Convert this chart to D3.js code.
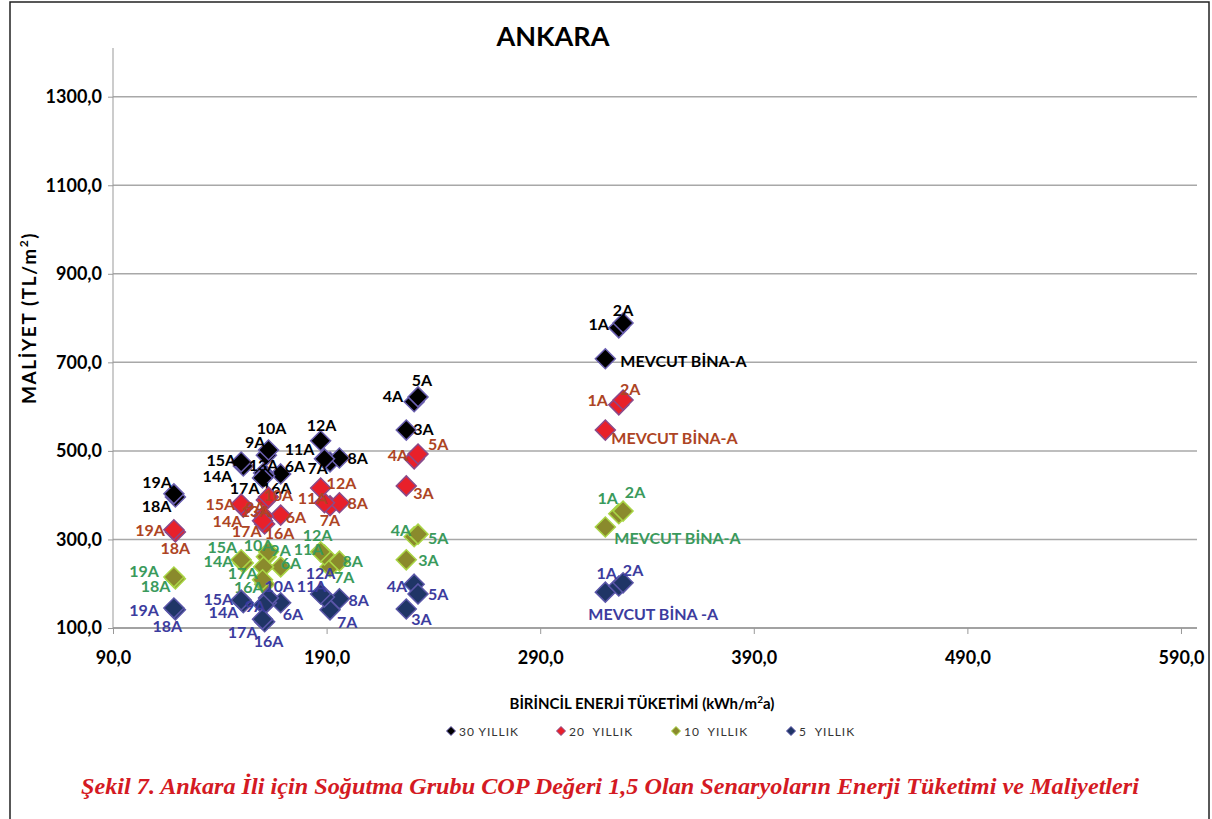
<!DOCTYPE html>
<html>
<head>
<meta charset="utf-8">
<script src="https://cdn.jsdelivr.net/npm/d3@7"></script>
<style>
  body { margin: 0; background: #fff; }
  svg { display: block; }
  .lbl { font-family: Lato, "DejaVu Sans", sans-serif; font-weight: 700; font-size: 16px; }
</style>
</head>
<body>
<svg id="chart" width="1212" height="819"></svg>
<script>
// scenario names (same order in every series)
var scenarios = ["MEVCUT", "1A", "2A", "3A", "4A", "5A", "6A", "7A", "8A", "9A", "10A",
                 "11A", "12A", "13A", "14A", "15A", "16A", "17A", "18A", "19A"];
// primary energy use (kWh/m2a) of each scenario
var energy = [320.5, 326.8, 328.8, 227.3, 231.0, 232.8, 168.5, 191.6, 196.0, 161.8, 162.8,
              189.0, 187.2, 160.5, 151.0, 150.0, 161.0, 160.0, 119.2, 118.5];
// cost (TL/m2) for each period
var cost30 = [708, 778, 789, 547, 611, 622, 448, 475, 484, 490, 502, 482, 523, 450, 466, 475, 444, 439, 396, 403];
var cost20 = [547, 604, 615, 421, 482, 493, 355, 376, 383, 389, 396, 383, 416, 353, 373, 380, 335, 342, 317, 322];
var cost10 = [328, 358, 364, 254, 306, 312, 238, 238, 251, 261, 272, 265, 272, 238, 247, 254, 199, 209, 211, 215];
var cost5  = [181, 195, 202, 143, 199, 177, 157, 141, 166, 157, 168, 170, 177, 152, 157, 163, 114, 120, 141, 145];
var seriesNames = ["30 YILLIK", "20  YILLIK", "10  YILLIK", "5  YILLIK"];
var mevcutLabels = ["MEVCUT BİNA-A", "MEVCUT BİNA-A", "MEVCUT BİNA-A", "MEVCUT BİNA -A"];
var xTicks = [90, 190, 290, 390, 490, 590];
var yTicks = [100, 300, 500, 700, 900, 1100, 1300];

var styles = [
  {fill: "#000000", stroke: "#6a5fb0", text: "#000000"},
  {fill: "#e8202a", stroke: "#8a4a8a", text: "#ad4424"},
  {fill: "#8a8a2c", stroke: "#a9d545", text: "#3a9a5c"},
  {fill: "#1f3566", stroke: "#5a56a8", text: "#3c3c9e"}
];

// label placement around each marker: [dx, dy, anchor]
var labelPos = [
  { MEVCUT: [15, 2, "start"], "1A": [-10, -4, "end"], "2A": [0, -13, "middle"], "3A": [7, -2, "start"],
    "4A": [-11, -6, "end"], "5A": [4, -17, "middle"], "6A": [4, -8, "start"], "7A": [-2, 6, "end"],
    "8A": [8, 0, "start"], "9A": [-1, -14, "end"], "10A": [3, -23, "middle"], "11A": [-10, -10, "end"],
    "12A": [1, -16, "middle"], "13A": [0, -9, "middle"], "14A": [-11, 10, "end"], "15A": [-5, -2, "end"],
    "16A": [-3, 12, "start"], "17A": [-3, 10, "end"], "18A": [-4, 9, "end"], "19A": [-2, -12, "end"] },
  { MEVCUT: [6, 7, "start"], "1A": [-11, -5, "end"], "2A": [-3, -11, "start"], "3A": [7, 7, "start"],
    "4A": [-6, -4, "end"], "5A": [10, -11, "start"], "6A": [5, 1, "start"], "7A": [0, 14, "middle"],
    "8A": [8, 0, "start"], "9A": [-1, 6, "end"], "10A": [-5, -2, "start"], "11A": [3, -5, "end"],
    "12A": [6, -6, "start"], "13A": [-8, -5, "middle"], "14A": [-1, 13, "end"], "15A": [-6, -1, "end"],
    "16A": [0, 9, "start"], "17A": [-1, 10, "end"], "18A": [0, 16, "middle"], "19A": [-9, 0, "end"] },
  { MEVCUT: [9, 10, "start"], "1A": [-11, -16, "middle"], "2A": [12, -20, "middle"], "3A": [12, 0, "start"],
    "4A": [-3, -7, "end"], "5A": [10, 3, "start"], "6A": [0, -4, "start"], "7A": [4, 10, "start"],
    "8A": [3, -1, "start"], "9A": [4, -7, "start"], "10A": [-10, -7, "middle"], "11A": [-1, -6, "end"],
    "12A": [-3, -17, "middle"], "13A": null, "14A": [-10, -2, "end"], "15A": [-4, -13, "end"],
    "16A": [-1, 2, "end"], "17A": [-5, -7, "end"], "18A": [-5, 7, "end"], "19A": [-15, -7, "end"] },
  { MEVCUT: [-17, 21, "start"], "1A": [-12, -13, "middle"], "2A": [10, -13, "middle"], "3A": [5, 10, "start"],
    "4A": [-7, 1, "end"], "5A": [10, 0, "start"], "6A": [2, 11, "start"], "7A": [7, 12, "start"],
    "8A": [9, 1, "start"], "9A": [-1, 3, "end"], "10A": [-4, -12, "start"], "11A": [2, -12, "end"],
    "12A": [0, -21, "middle"], "13A": null, "14A": [-5, 9, "end"], "15A": [-8, -2, "end"],
    "16A": [4, 19, "middle"], "17A": [-5, 12, "end"], "18A": [-8, 16, "middle"], "19A": [-15, 1, "end"] }
];

var svg = d3.select("#chart");
var margin = {left: 113, right: 1197, top: 48, bottom: 628};

var x = d3.scaleLinear().domain([90, 597.5]).range([margin.left, margin.right]);
var y = d3.scaleLinear().domain([100, 1410]).range([margin.bottom, margin.top]);
var fmt = d3.formatLocale({decimal: ",", thousands: ".", grouping: [3], currency: ["", ""]}).format(".1f");

// outer frame
svg.append("rect")
    .attr("x", 10).attr("y", 2).attr("width", 1199).attr("height", 840)
    .attr("fill", "none").attr("stroke", "#222").attr("stroke-width", 1.5);

// title
svg.append("text")
    .attr("x", 553).attr("y", 46)
    .attr("text-anchor", "middle")
    .style("font-family", "Lato, sans-serif").style("font-weight", 700).style("font-size", "27px")
    .text("ANKARA");

// gridlines
svg.append("g").selectAll("line")
    .data(yTicks)
    .enter().append("line")
    .attr("x1", margin.left).attr("x2", margin.right)
    .attr("y1", function(d) { return y(d); }).attr("y2", function(d) { return y(d); })
    .attr("stroke", "#a8a8a8").attr("stroke-width", 1.5);

// Y axis
var yAxis = svg.append("g")
    .attr("transform", "translate(" + margin.left + ",0)")
    .call(d3.axisLeft(y).tickValues(yTicks).tickFormat(fmt).tickSize(5).tickPadding(6));
yAxis.select(".domain").attr("stroke", "#999").attr("d", "M0," + margin.top + "V" + margin.bottom);
yAxis.selectAll(".tick line").attr("stroke", "#999");
yAxis.selectAll("text")
    .style("font-family", "Lato, sans-serif").style("font-weight", 700).style("font-size", "18px")
    .attr("fill", "#000");

// X axis
var xAxis = svg.append("g")
    .attr("transform", "translate(0," + margin.bottom + ")")
    .call(d3.axisBottom(x).tickValues(xTicks).tickFormat(fmt).tickSize(6).tickPadding(17));
xAxis.select(".domain").attr("stroke", "#999").attr("stroke-width", 1.5)
    .attr("d", "M" + margin.left + ",0H" + margin.right);
xAxis.selectAll(".tick line").attr("stroke", "#999");
xAxis.selectAll("text")
    .style("font-family", "Lato, sans-serif").style("font-weight", 700).style("font-size", "18px")
    .attr("fill", "#000");

// axis titles
var yTitle = svg.append("text")
    .attr("transform", "translate(36,318) rotate(-90)")
    .attr("text-anchor", "middle")
    .style("font-family", "Lato, sans-serif").style("font-weight", 700).style("font-size", "19px")
    .style("letter-spacing", "1.6px");
yTitle.append("tspan").text("MALİYET (TL/m");
yTitle.append("tspan").attr("dy", -8).style("font-size", "12px").text("2");
yTitle.append("tspan").attr("dy", 8).text(")");

var xTitle = svg.append("text")
    .attr("x", 642).attr("y", 709)
    .attr("text-anchor", "middle")
    .style("font-family", "Lato, sans-serif").style("font-weight", 700).style("font-size", "15px");
xTitle.append("tspan").text("BİRİNCİL ENERJİ TÜKETİMİ (kWh/m");
xTitle.append("tspan").attr("dy", -6).style("font-size", "10px").text("2");
xTitle.append("tspan").attr("dy", 6).text("a)");

// diamond marker
function diamond(r) {
  return "M0," + (-r) + "L" + r + ",0L0," + r + "L" + (-r) + ",0Z";
}

var allCosts = [cost30, cost20, cost10, cost5];

allCosts.forEach(function(costs, si) {
  var st = styles[si];
  var pts = scenarios.map(function(s, i) {
    return {name: s, e: energy[i], c: costs[i]};
  });
  var g = svg.append("g");
  g.selectAll("path")
      .data(pts)
      .enter().append("path")
      .attr("d", diamond(10))
      .attr("transform", function(d) { return "translate(" + x(d.e) + "," + y(d.c) + ")"; })
      .attr("fill", st.fill)
      .attr("stroke", st.stroke)
      .attr("stroke-width", 1.5);

  g.selectAll("text")
      .data(pts.filter(function(d) { return labelPos[si][d.name]; }))
      .enter().append("text")
      .attr("class", "lbl")
      .attr("x", function(d) { return x(d.e) + labelPos[si][d.name][0]; })
      .attr("y", function(d) { return y(d.c) + labelPos[si][d.name][1]; })
      .attr("dominant-baseline", "central")
      .attr("text-anchor", function(d) { return labelPos[si][d.name][2]; })
      .attr("fill", st.text)
      .text(function(d) { return d.name === "MEVCUT" ? mevcutLabels[si] : d.name; });
});

// legend
var legendX = [451, 561, 676, 791];
var legend = svg.append("g").selectAll("g")
    .data(seriesNames)
    .enter().append("g")
    .attr("transform", function(d, i) { return "translate(" + legendX[i] + ",731)"; });
legend.append("path")
    .attr("d", diamond(4.5))
    .attr("fill", function(d, i) { return styles[i].fill; })
    .attr("stroke", function(d, i) { return styles[i].stroke; })
    .attr("stroke-width", 1);
legend.append("text")
    .attr("x", 8).attr("y", 0)
    .attr("dominant-baseline", "central")
    .style("font-family", "Lato, sans-serif").style("font-size", "12px").style("letter-spacing", "1px")
    .style("white-space", "pre")
    .attr("fill", "#333")
    .text(function(d) { return d; });

// caption
svg.append("text")
    .attr("x", 610).attr("y", 794)
    .attr("text-anchor", "middle")
    .attr("textLength", 1058).attr("lengthAdjust", "spacingAndGlyphs")
    .style("font-family", "'Liberation Serif', 'Times New Roman', serif")
    .style("font-weight", 700).style("font-style", "italic").style("font-size", "23px")
    .attr("fill", "#d41a23")
    .text("Şekil 7. Ankara İli için Soğutma Grubu COP Değeri 1,5 Olan Senaryoların Enerji Tüketimi ve Maliyetleri");
</script>
</body>
</html>
